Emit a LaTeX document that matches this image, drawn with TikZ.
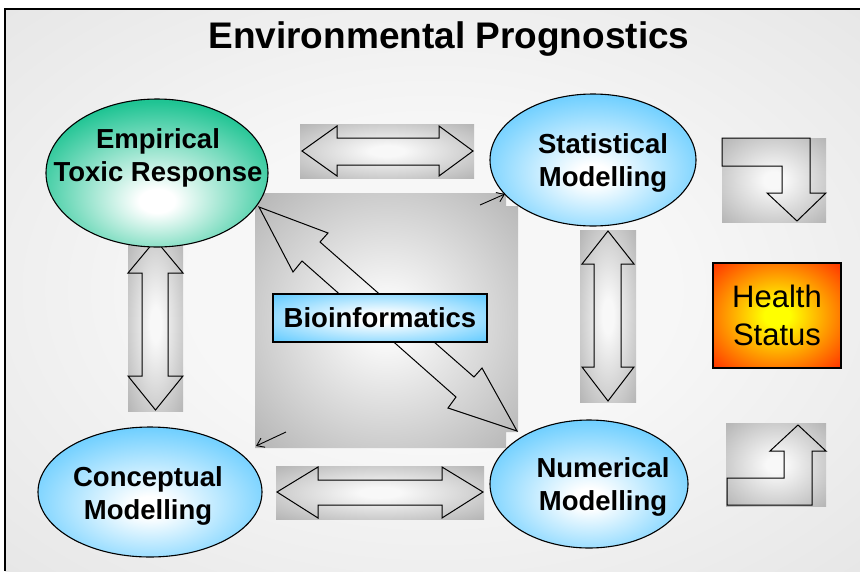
\documentclass[tikz,border=0pt]{standalone}
\usepackage{fontspec}
\setmainfont{Liberation Sans}
\usetikzlibrary{shapes.geometric,arrows.meta}
\definecolor{bgedge}{HTML}{DCDCDC}
\definecolor{bgmid}{HTML}{F7F7F7}
\definecolor{grayedge}{HTML}{AFAFAF}
\definecolor{graymid}{HTML}{F8F8F8}
\definecolor{greenedge}{HTML}{1FC493}
\definecolor{blueedge}{HTML}{66CCFF}
\definecolor{redge}{HTML}{FF3C00}
\definecolor{ylw}{HTML}{FFFF00}
\pgfdeclareradialshading{bgshade}{\pgfpoint{0bp}{0bp}}{color(0bp)=(bgmid); color(14bp)=(bgmid); color(50bp)=(bgedge); color(72bp)=(bgedge)}
\pgfdeclareradialshading{grayshade}{\pgfpoint{0bp}{0bp}}{color(0bp)=(graymid); color(5bp)=(graymid); color(38bp)=(grayedge); color(72bp)=(grayedge)}
\pgfdeclareradialshading{greenshade}{\pgfpoint{0bp}{-10bp}}{color(0bp)=(white); color(4bp)=(white); color(30bp)=(greenedge); color(72bp)=(greenedge)}
\pgfdeclareradialshading{blueshade}{\pgfpoint{0bp}{-6bp}}{color(0bp)=(white); color(4bp)=(white); color(30bp)=(blueedge); color(72bp)=(blueedge)}
\pgfdeclareradialshading{boxblue}{\pgfpoint{0bp}{0bp}}{color(0bp)=(white); color(5bp)=(white); color(34bp)=(blueedge); color(72bp)=(blueedge)}
\pgfdeclareradialshading{hotshade}{\pgfpoint{0bp}{0bp}}{color(0bp)=(ylw); color(5bp)=(ylw); color(34bp)=(redge); color(72bp)=(redge)}
\tikzset{
  ellbox/.style={draw=black, line width=1.1pt, ellipse, inner sep=0pt, shade},
  lbl/.style={font=\fontsize{27.5}{33}\selectfont\bfseries, align=center, inner sep=0pt},
  graybox/.style={shade, shading=grayshade},
  blockarrow/.style={draw=black, line width=1pt, line join=miter},
  thinarrow/.style={draw=black, line width=0.9pt, -{Straight Barb[length=7pt,width=10pt]}}
}
\begin{document}
\begin{tikzpicture}[x=1pt,y=-1pt]
\useasboundingbox (0,0) rectangle (860,571);
% background frame
\path[shade, shading=bgshade] (5,9) rectangle (860,571);
\draw[line width=1.4pt] (5,571) -- (5,9) -- (860,9);
% title
\node[font=\fontsize{37}{44}\selectfont\bfseries, inner sep=0pt] (title) at (449,39) {Environmental Prognostics};

% central square
\path[graybox] (255,193) -- (506,193) -- (506,206) -- (518,206) -- (518,432) -- (506,432) -- (506,448) -- (255,448) -- cycle;
\draw[blockarrow] (259,207) -- (328,233) -- (320,242) -- (474,377) -- (482,368) -- (517,431)
  -- (448,408) -- (456,397) -- (302,261) -- (293,272) -- cycle;
\coordinate (sqtrA) at (480,205);
\coordinate (sqtrB) at (505,194);
\coordinate (sqblA) at (286,432);
\coordinate (sqblB) at (256,446);
\draw[thinarrow] (sqtrA) -- (sqtrB);
\draw[thinarrow] (sqblA) -- (sqblB);
\node[draw=black, line width=1.1pt, shade, shading=boxblue, minimum width=214pt, minimum height=48pt, inner sep=0pt,
  font=\fontsize{27.5}{33}\selectfont\bfseries] (bio) at (380,318) {Bioinformatics};

% top horizontal arrow
\path[graybox] (300,124) rectangle (474,178);
\draw[blockarrow] (302,151) -- (337,126) -- (337,138) -- (439,138) -- (439,126) -- (473,151)
  -- (439,176) -- (439,165) -- (337,165) -- (337,176) -- cycle;
% bottom horizontal arrow
\path[graybox] (276,466) rectangle (484,519);
\draw[blockarrow] (277,492) -- (318,467) -- (318,480) -- (442,480) -- (442,467) -- (483,492)
  -- (442,518) -- (442,505) -- (318,505) -- (318,518) -- cycle;
% left vertical arrow
\path[graybox] (128,238) rectangle (183,411);
\draw[blockarrow] (155.5,240) -- (183,273) -- (168,273) -- (168,376) -- (183,376) -- (155.5,410)
  -- (128,376) -- (142,376) -- (142,273) -- (128,273) -- cycle;
% right vertical arrow
\path[graybox] (580,230) rectangle (636,402);
\draw[blockarrow] (608,231) -- (634,264) -- (621,264) -- (621,367) -- (634,367) -- (608,401)
  -- (582,367) -- (594,367) -- (594,264) -- (582,264) -- cycle;
% bent arrow top right
\path[graybox] (722,138) rectangle (826,222);
\draw[blockarrow] (722,138) -- (810,138) -- (810,193) -- (826,193) -- (797,221) -- (767,193)
  -- (782,193) -- (782,166) -- (722,166) -- cycle;
% bent arrow bottom right
\path[graybox] (726,423) rectangle (826,506);
\draw[blockarrow] (727,505) -- (727,478) -- (784,478) -- (784,451) -- (770,451) -- (798,425)
  -- (826,451) -- (812,451) -- (812,505) -- cycle;

% ellipses
\node[ellbox, shading=greenshade, minimum width=222pt, minimum height=148pt] (etr) at (157,173) {};
\node[lbl] (etrtext) at (158,158) {Empirical\\Toxic Response};
\node[ellbox, shading=blueshade, minimum width=206pt, minimum height=132pt] (stat) at (593,160) {};
\node[lbl] (stattext) at (603,163) {Statistical\\Modelling};
\node[ellbox, shading=blueshade, minimum width=224pt, minimum height=130pt] (conc) at (150,492) {};
\node[lbl] (conctext) at (148,496) {Conceptual\\Modelling};
\node[ellbox, shading=blueshade, minimum width=198pt, minimum height=128pt] (num) at (589,484) {};
\node[lbl] (numtext) at (603,487) {Numerical\\Modelling};

% health status
\node[draw=black, line width=1.4pt, shade, shading=hotshade, minimum width=128pt, minimum height=105pt, inner sep=0pt,
  font=\fontsize{31}{38}\selectfont, align=center] (health) at (777,315.5) {Health\\Status};
\end{tikzpicture}
\end{document}
